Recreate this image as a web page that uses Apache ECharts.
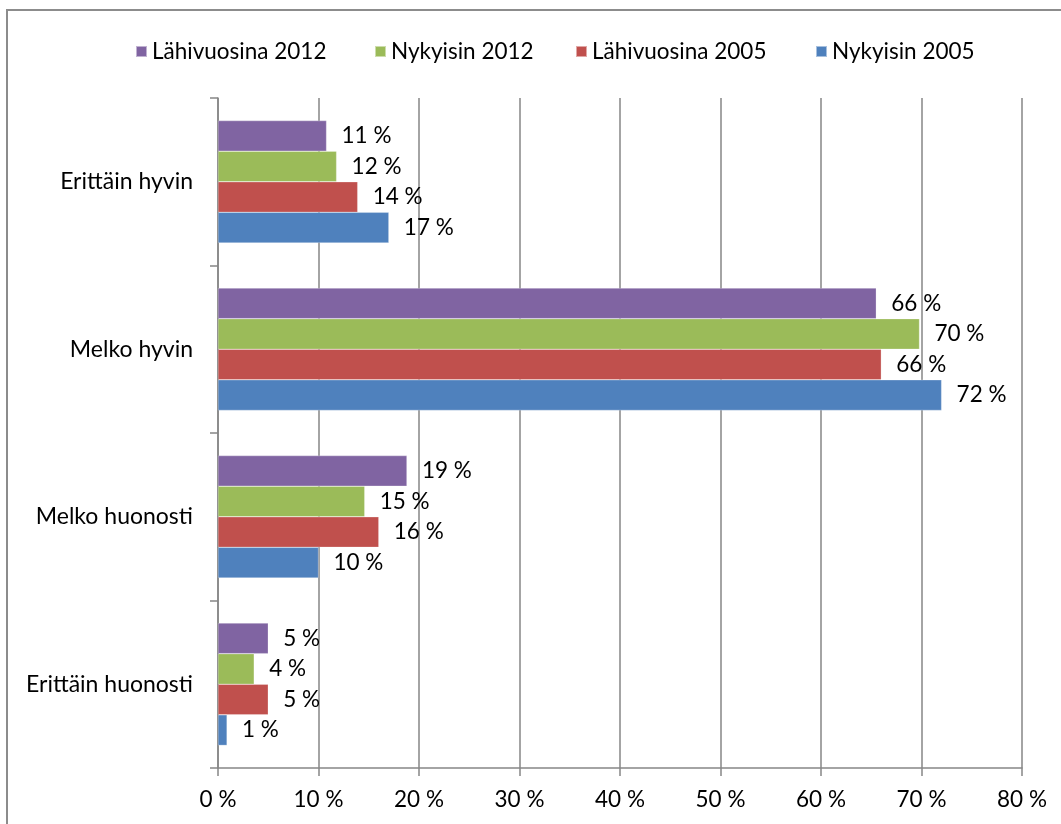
<!DOCTYPE html>
<html>
<head>
<meta charset="utf-8">
<script src="https://cdn.jsdelivr.net/npm/echarts@6/dist/echarts.min.js"></script>
<style>html,body{margin:0;padding:0;background:#fff}#c{width:1061px;height:824px}</style>
</head>
<body>
<div id="c"></div>
<script>
const categories = ['Erittäin hyvin', 'Melko hyvin', 'Melko huonosti', 'Erittäin huonosti'];
const seriesNames = ['Lähivuosina 2012', 'Nykyisin 2012', 'Lähivuosina 2005', 'Nykyisin 2005'];
const lahivuosina2012 = [10.8, 65.5, 18.8, 5.0];
const nykyisin2012 = [11.8, 69.8, 14.6, 3.6];
const lahivuosina2005 = [13.9, 66.0, 16.0, 5.0];
const nykyisin2005 = [17.0, 72.0, 10.0, 0.9];
const xTicks = [0, 10, 20, 30, 40, 50, 60, 70, 80];
const colors = ['#8064A2', '#9BBB59', '#C0504D', '#4F81BD'];
const seriesData = [lahivuosina2012, nykyisin2012, lahivuosina2005, nykyisin2005];

const FONT = 'Lato';
const FS = 22.5;
const chart = echarts.init(document.getElementById('c'), null, {renderer: 'canvas'});
const legendLeft = [130, 369, 570, 810];

const option = {
  animation: false,
  backgroundColor: '#ffffff',
  textStyle: {fontFamily: FONT, color: '#000'},
  graphic: [{
    type: 'rect',
    shape: {x: 7, y: 10, width: 1200, height: 1000},
    style: {fill: 'none', stroke: '#8c8c8c', lineWidth: 2},
    silent: true
  }],
  legend: seriesNames.map((n, i) => ({
    data: [n],
    left: legendLeft[i],
    top: 35,
    itemWidth: 11,
    itemHeight: 11,
    icon: 'rect',
    itemGap: 0,
    textStyle: {fontFamily: FONT, fontSize: FS, color: '#000'},
    selectedMode: false
  })),
  grid: {left: 218, right: 39, top: 98, bottom: 56, containLabel: false},
  xAxis: {
    type: 'value',
    min: xTicks[0],
    max: xTicks[xTicks.length - 1],
    interval: 10,
    axisLine: {show: true, lineStyle: {color: '#868686', width: 1.5}},
    axisTick: {show: true, length: 8, inside: false, lineStyle: {color: '#868686', width: 1.5}},
    splitLine: {show: true, lineStyle: {color: '#868686', width: 1.5}},
    axisLabel: {
      fontFamily: FONT, fontSize: FS, color: '#000', margin: 20,
      formatter: v => v + ' %'
    }
  },
  yAxis: {
    type: 'category',
    inverse: true,
    data: categories,
    axisLine: {show: true, lineStyle: {color: '#868686', width: 1.5}},
    axisTick: {show: true, length: 8, lineStyle: {color: '#868686', width: 1.5}},
    axisLabel: {fontFamily: FONT, fontSize: 23, color: '#000', margin: 25}
  },
  series: seriesNames.map((n, i) => ({
    name: n,
    type: 'bar',
    data: seriesData[i],
    barGap: '0%',
    barCategoryGap: '27%',
    itemStyle: {color: colors[i], borderColor: 'rgba(255,255,255,0.5)', borderWidth: 0.5},
    label: {
      show: true,
      position: 'right',
      distance: 15,
      fontFamily: FONT,
      fontSize: FS,
      color: '#000',
      formatter: p => Math.round(p.value) + ' %'
    }
  }))
};
chart.setOption(option);
</script>
</body>
</html>
